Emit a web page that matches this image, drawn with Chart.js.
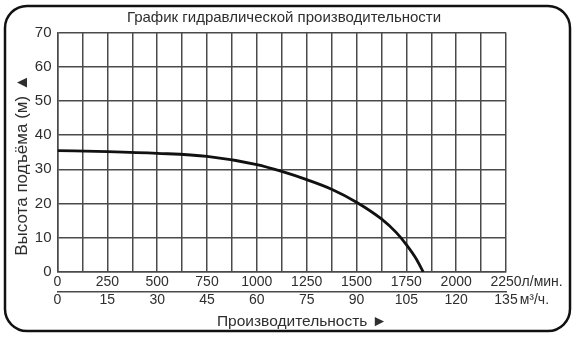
<!DOCTYPE html>
<html>
<head>
<meta charset="utf-8">
<script src="https://cdn.jsdelivr.net/npm/chart.js@4"></script>
<style>
  html, body { margin: 0; padding: 0; background: #fff; }
  #wrap { width: 583px; height: 340px; }
</style>
</head>
<body>
<div id="wrap"><canvas id="pumpChart"></canvas></div>
<script>
// performance curve: flow in l/min, head in m
const flowPoints = [0, 250, 500, 750, 1000, 1125, 1250, 1375, 1500, 1625, 1700, 1750, 1800, 1835];
const headPoints = [35.5, 35.2, 34.7, 33.8, 31.4, 29.4, 27.0, 24.2, 20.4, 15.5, 11.5, 8.0, 3.8, 0];

const lpmLabels = [0, 250, 500, 750, 1000, 1250, 1500, 1750, 2000, 2250];
const m3hLabels = [0, 15, 30, 45, 60, 75, 90, 105, 120, 135];
const headLabels = [0, 10, 20, 30, 40, 50, 60, 70];

const chartTitle = "График гидравлической производительности";
const yTitle = "Высота подъёма (м) ▲";
const xTitle = "Производительность ►";

const gridColor = "#4a4a4a";
const textColor = "#2e2e2e";
const fontFamily = '"Liberation Sans", Arial, sans-serif';

Chart.defaults.font.family = fontFamily;
Chart.defaults.color = textColor;

const framePlugin = {
  id: "frame",
  beforeDraw(chart) {
    const ctx = chart.ctx;
    ctx.save();
    ctx.fillStyle = "#fff";
    ctx.fillRect(0, 0, chart.width, chart.height);
    ctx.beginPath();
    ctx.roundRect(5, 6, 565, 325, 22);
    ctx.lineWidth = 2.5;
    ctx.strokeStyle = "#111";
    ctx.stroke();
    ctx.restore();
  },
  afterDraw(chart) {
    const ctx = chart.ctx;
    const xs = chart.scales.x;
    const xs2 = chart.scales.x2;
    ctx.save();
    ctx.fillStyle = textColor;
    ctx.textBaseline = "middle";

    // units after the last tick of each row
    ctx.font = "14px " + fontFamily;
    ctx.textAlign = "left";
    const px = xs.getPixelForValue(lpmLabels[lpmLabels.length - 1]);
    const w1 = ctx.measureText(String(lpmLabels[lpmLabels.length - 1])).width;
    ctx.fillText("л/мин.", px + w1 / 2, xs.top + 2 + 8.4);
    const w2 = ctx.measureText(String(m3hLabels[m3hLabels.length - 1])).width;
    ctx.fillText("м³/ч.", px + w2 / 2 + 2, xs2.top + 8.4);

    // titles sit a little off the plot centre in the original
    ctx.textAlign = "center";
    ctx.font = "15px " + fontFamily;
    ctx.fillText(chartTitle, 284, 18);
    ctx.font = "15.5px " + fontFamily;
    ctx.fillText(xTitle, 302, 322);

    ctx.translate(22, 165);
    ctx.rotate(-Math.PI / 2);
    ctx.font = "17px " + fontFamily;
    ctx.fillText(yTitle, 0, 0);
    ctx.restore();
  }
};

new Chart(document.getElementById("pumpChart"), {
  type: "line",
  data: {
    datasets: [{
      data: flowPoints.map((x, i) => ({ x: x, y: headPoints[i] })),
      borderColor: "#111",
      borderWidth: 2.8,
      pointRadius: 0,
      cubicInterpolationMode: "monotone",
      fill: false,
      xAxisID: "x",
      yAxisID: "y",
    }],
  },
  options: {
    responsive: true,
    maintainAspectRatio: false,
    animation: false,
    layout: { padding: { left: 4, right: 77, top: 32.5, bottom: 0 } },
    plugins: {
      legend: { display: false },
      tooltip: { enabled: false },
      title: { display: false },
    },
    scales: {
      x: {
        type: "linear",
        position: "bottom",
        min: 0,
        max: 2250,
        weight: 0,
        ticks: {
          stepSize: 125,
          autoSkip: false,
          maxRotation: 0,
          padding: 2,
          font: { size: 14 },
          callback: (v) => (lpmLabels.includes(v) ? String(v) : ""),
        },
        grid: { color: gridColor, lineWidth: 1.5, drawTicks: false },
        border: { color: gridColor, width: 1.5 },
        afterFit: (s) => { s.height = 19.5; },
      },
      x2: {
        type: "linear",
        position: "bottom",
        min: 0,
        max: 2250,
        weight: 1,
        ticks: {
          stepSize: 250,
          autoSkip: false,
          maxRotation: 0,
          padding: 0,
          font: { size: 14 },
          callback: (v) => {
            const i = lpmLabels.indexOf(v);
            return i >= 0 ? String(m3hLabels[i]) : "";
          },
        },
        grid: { display: false, drawTicks: false },
        border: { display: true, color: gridColor, width: 1.5 },
        afterFit: (s) => { s.height = 48.5; },
      },
      y: {
        min: 0,
        max: 70,
        ticks: {
          stepSize: 5,
          padding: 6,
          font: { size: 15 },
          callback: (v) => (headLabels.includes(v) ? String(v) : ""),
        },
        grid: { color: gridColor, lineWidth: 1.5, drawTicks: false },
        border: { color: gridColor, width: 1.5 },
        afterFit: (s) => { s.width = 53.5; },
      },
    },
  },
  plugins: [framePlugin],
});
</script>
</body>
</html>
